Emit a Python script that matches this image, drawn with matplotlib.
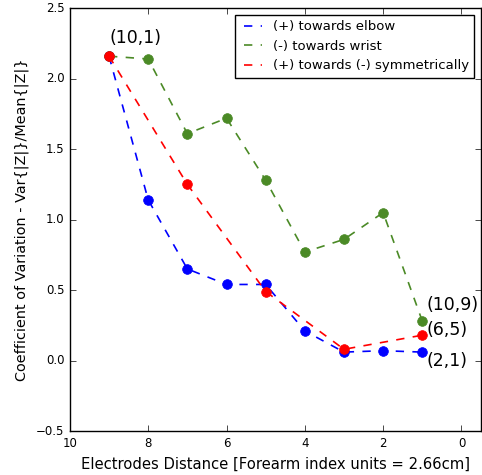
import matplotlib
matplotlib.use("Agg")
import matplotlib.pyplot as plt

# electrode distance (index units)
dist = [9, 8, 7, 6, 5, 4, 3, 2, 1]
dist_sym = [9, 7, 5, 3, 1]

# coefficient of variation per configuration
cv_elbow = [2.16, 1.14, 0.65, 0.54, 0.54, 0.21, 0.06, 0.07, 0.06]
cv_wrist = [2.16, 2.14, 1.61, 1.72, 1.28, 0.77, 0.86, 1.05, 0.28]
cv_sym = [2.16, 1.25, 0.49, 0.08, 0.18]

labels = ["(+) towards elbow", "(-) towards wrist", "(+) towards (-) symmetrically"]
green = "#4b8a26"

plt.style.use("classic")
fig = plt.figure(figsize=(4.82, 4.75), dpi=100, facecolor="white")
ax = fig.add_axes([0.145, 0.0926, 0.853, 0.89])

ax.plot(dist, cv_elbow, "--", color="b", lw=1.2, label=labels[0])
ax.plot(dist, cv_elbow, "o", color="b", mec="b", ms=7)
ax.plot(dist, cv_wrist, "--", color=green, lw=1.2, label=labels[1])
ax.plot(dist, cv_wrist, "o", color=green, mec=green, ms=7)
ax.plot(dist_sym, cv_sym, "--", color="r", lw=1.2, label=labels[2])
ax.plot(dist_sym, cv_sym, "o", color="r", mec="r", ms=7)

ax.text(9, 2.25, "(10,1)", fontsize=12.5)
ax.text(0.9, 0.36, "(10,9)", fontsize=12.5)
ax.text(0.9, 0.18, "(6,5)", fontsize=12.5)
ax.text(0.9, -0.04, "(2,1)", fontsize=12.5)

ax.set_xlim(10, -0.5)
ax.set_ylim(-0.5, 2.5)
ax.set_xticks([10, 8, 6, 4, 2, 0])
ax.tick_params(labelsize=8.5)
ax.set_xlabel("Electrodes Distance [Forearm index units = 2.66cm]", fontsize=10.6)
ax.set_ylabel("Coefficient of Variation - Var{|Z|}/Mean{|Z|}", fontsize=10.4)
ax.legend(loc="upper right", fontsize=9.5, handlelength=2.0, handletextpad=0.5)

fig.savefig("out.png", dpi=100, facecolor="white")
